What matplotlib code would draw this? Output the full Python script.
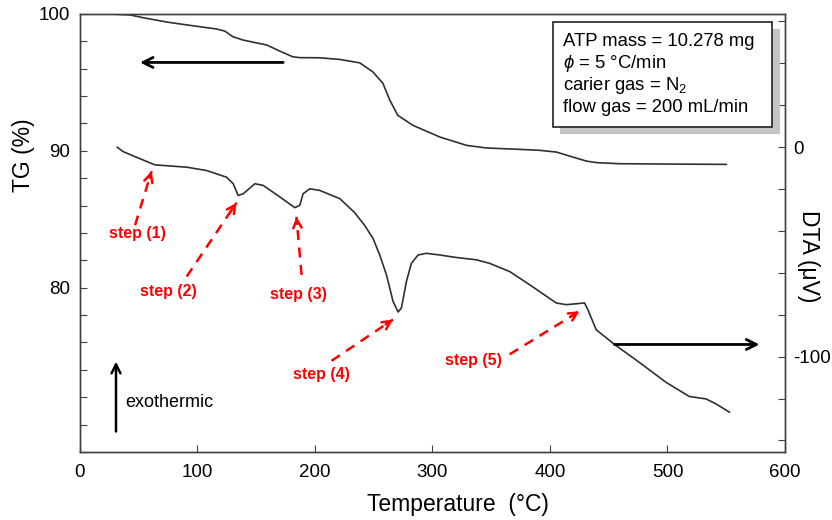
import matplotlib
matplotlib.use('Agg')
import matplotlib.pyplot as plt
from matplotlib.patches import Rectangle
import numpy as np

plt.rcParams.update({
    'font.family': ['Liberation Sans', 'DejaVu Sans'],
    'mathtext.fontset': 'custom',
    'mathtext.rm': 'Liberation Sans',
    'mathtext.it': 'Liberation Sans:italic',
    'axes.linewidth': 1.0,
})

# ─── Data ────────────────────────────────────────────────────
tg_temp = [25.9, 43.0, 54.0, 74.3, 96.4, 116.8, 123.6, 130.4, 138.9, 159.3,
           170.3, 181.4, 187.3, 204.3, 221.3, 238.3, 249.4, 257.9, 263.9, 270.6,
           283.4, 306.4, 329.2, 346.2, 374.2, 391.2, 405.7, 419.3, 431.2, 439.7,
           459.2, 550.1]
tg_mass = [100.0, 99.93, 99.73, 99.41, 99.14, 98.90, 98.75, 98.34, 98.10, 97.73,
           97.29, 96.87, 96.81, 96.80, 96.68, 96.43, 95.77, 94.95, 93.70, 92.60,
           91.87, 91.01, 90.40, 90.21, 90.11, 90.04, 89.91, 89.55, 89.25, 89.14,
           89.06, 89.01]

dta_temp = [32.1, 37.2, 48.6, 64.1, 74.1, 91.1, 108.1, 125.1, 130.7, 134.9,
            139.2, 149.1, 156.2, 170.3, 183.1, 187.3, 190.1, 195.8, 204.3, 221.3,
            234.0, 242.5, 249.6, 255.3, 261.0, 266.6, 270.9, 273.7, 278.0, 282.2,
            287.9, 295.0, 306.3, 320.5, 337.5, 348.8, 365.8, 382.8, 405.4, 413.9,
            429.5, 432.3, 439.4, 455.0, 476.2, 498.9, 518.5, 532.9, 541.4, 552.7]
dta_signal = [-0.1, -2.2, -4.9, -8.5, -8.9, -9.6, -11.2, -14.4, -17.5, -23.1,
              -22.3, -17.5, -18.3, -23.8, -28.9, -27.8, -22.3, -19.9, -20.7, -24.6,
              -31.3, -37.4, -43.6, -51.5, -61.0, -73.6, -78.7, -76.8, -64.1, -55.5,
              -51.5, -50.7, -51.5, -52.7, -53.8, -55.5, -59.4, -65.7, -74.4, -75.2,
              -74.4, -77.6, -87.2, -94.2, -102.8, -112.3, -119.0, -120.2, -122.6, -126.5]

step_labels = ['step (1)', 'step (2)', 'step (3)', 'step (4)', 'step (5)']
step_tip_T = [61.3, 133.6, 184.5, 266.6, 425.2]
step_tip_dta = [-11.5, -26.5, -33.3, -82.3, -78.3]
step_tail_T = [47.2, 91.1, 188.8, 214.3, 365.8]
step_tail_dta = [-37.3, -61.8, -61.0, -102.0, -98.9]
step_text_T = [49.6, 75.4, 185.9, 205.8, 335.2]
step_text_dta = [-41.3, -68.9, -70.5, -108.4, -102.0]

info_lines = ['ATP mass = 10.278 mg', '$\\phi$ = 5 °C/min',
              'carier gas = N$_2$', 'flow gas = 200 mL/min']

LINE_COLOR = '#303030'
SPINE_COLOR = '#404040'
STEP_COLOR = '#ff0000'

fig = plt.figure(figsize=(8.32, 5.2), dpi=100)
ax = fig.add_axes([0.0956, 0.1308, 0.848, 0.8423])
ax2 = ax.twinx()

ax.plot(tg_temp, tg_mass, '-', color=LINE_COLOR, linewidth=1.2)
ax2.plot(dta_temp, dta_signal, '-', color=LINE_COLOR, linewidth=1.2)

ax.set_xlim(0, 600)
ax.set_ylim(68, 100)
ax2.set_ylim(-145.5, 63.5)

ax.set_xticks(np.arange(0, 601, 100))
ax.set_yticks(np.arange(68, 101, 2))
ax.set_yticklabels([str(v) if v in (80, 90, 100) else '' for v in range(68, 101, 2)])
ax2.set_yticks(np.arange(-140, 61, 20))
ax2.set_yticklabels(['0' if v == 0 else ('-100' if v == -100 else '')
                     for v in range(-140, 61, 20)])

ax.tick_params(axis='x', direction='in', length=5, labelsize=13.5, pad=9, color=SPINE_COLOR)
ax.tick_params(axis='y', direction='in', length=5, labelsize=13.5, pad=7, color=SPINE_COLOR)
ax2.tick_params(axis='y', direction='in', length=5, labelsize=13.5, pad=6, color=SPINE_COLOR)
for a in (ax, ax2):
    for s in a.spines.values():
        s.set_color(SPINE_COLOR)

ax.set_xlabel('Temperature  (°C)', fontsize=16.5, va='center')
ax.xaxis.set_label_coords(0.536, -0.12)
ax.set_ylabel('TG (%)', fontsize=16.5, va='center')
ax.yaxis.set_label_coords(-0.08, 0.678)
ax2.set_ylabel('DTA (μV)', fontsize=16.5, rotation=270, va='center')
ax2.yaxis.set_label_coords(1.033, 0.447)

# step annotations: dashed shaft + solid open arrowhead
for lab, tx, ty, bx, by, lx, ly in zip(step_labels, step_tip_T, step_tip_dta,
                                       step_tail_T, step_tail_dta,
                                       step_text_T, step_text_dta):
    ax2.plot([bx, tx], [by, ty], color=STEP_COLOR, lw=1.8, dashes=(4, 3))
    hx, hy = tx - 0.12 * (tx - bx), ty - 0.12 * (ty - by)
    ax2.annotate('', xy=(tx, ty), xytext=(hx, hy),
                 arrowprops=dict(arrowstyle='->', color=STEP_COLOR, lw=1.8,
                                 mutation_scale=15, shrinkA=0, shrinkB=0))
    ax2.text(lx, ly, lab, color=STEP_COLOR, fontsize=11.5, fontweight='bold',
             ha='center', va='center')

# black direction arrows
ax.annotate('', xy=(51.4, 96.46), xytext=(173.2, 96.46),
            arrowprops=dict(arrowstyle='->', color='black', lw=2,
                            mutation_scale=18, shrinkA=0, shrinkB=0))
ax2.annotate('', xy=(578.2, -94.2), xytext=(455.0, -94.2),
             arrowprops=dict(arrowstyle='->', color='black', lw=2,
                             mutation_scale=18, shrinkA=0, shrinkB=0))
ax.annotate('', xy=(31, 74.6), xytext=(31, 69.5),
            arrowprops=dict(arrowstyle='->', color='black', lw=1.8,
                            mutation_scale=16, shrinkA=0, shrinkB=0))
ax.text(38.7, 71.65, 'exothermic', fontsize=13, ha='left', va='center')

# info box with shadow
W, H = 832, 520
fig.patches.append(Rectangle((560 / W, 1 - 134 / H), 220 / W, 105 / H,
                             transform=fig.transFigure, facecolor='#c4c4c4',
                             edgecolor='none', zorder=5))
fig.patches.append(Rectangle((553 / W, 1 - 127 / H), 219 / W, 105 / H,
                             transform=fig.transFigure, facecolor='white',
                             edgecolor='#202020', linewidth=1.2, zorder=6))
for i, line in enumerate(info_lines):
    fig.text(563 / W, 1 - (42 + 22 * i) / H, line, fontsize=13.3,
             ha='left', va='center', zorder=7)

fig.savefig('out.png', dpi=100)
